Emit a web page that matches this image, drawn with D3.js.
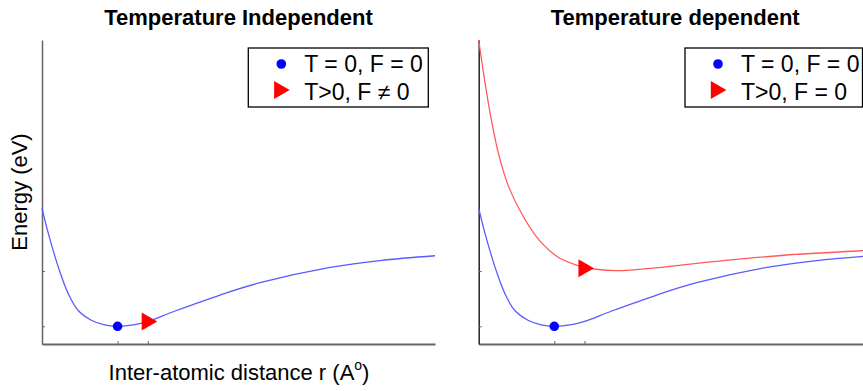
<!DOCTYPE html>
<html>
<head>
<meta charset="utf-8">
<script src="https://cdn.jsdelivr.net/npm/d3@7"></script>
<style>
  body { margin: 0; background: #fff; }
  svg { display: block; font-family: "Liberation Sans", Arial, sans-serif; }
</style>
</head>
<body>
<svg id="chart" width="863" height="391"></svg>
<script>
"use strict";

// Data (r in arbitrary units, energy relative to the minimum)
var titles = ["Temperature Independent", "Temperature dependent"];
var xTicks = [2.5, 3.5];
var yTicks = [0, 1];

// T = 0 curve (same shape in both panels)
var coldR = [0, 0.2, 0.42, 0.59, 0.86, 1.19, 1.63, 2.07, 2.5, 3.07, 3.5, 4.4, 5.89, 7.21, 9.53, 11.18, 13];
var coldE = [2.135, 1.70, 1.28, 0.99, 0.60, 0.29, 0.11, 0.025, 0, 0.03, 0.09, 0.277, 0.566, 0.789, 1.067, 1.19, 1.277];

// T > 0 curve (right panel)
var hotR = [0, 0.185, 0.41, 0.68, 1.01, 1.46, 2.0, 2.66, 3.33, 3.81, 4.57, 5.67, 7.76, 10.19, 12.71, 13];
var hotE = [5.18, 4.49, 3.76, 3.07, 2.50, 2.00, 1.56, 1.24, 1.091, 1.037, 1.006, 1.049, 1.169, 1.29, 1.368, 1.375];

// markers: [r, E] per panel
var dotPoints = [[2.5, 0], [2.5, 0]];
var triPoints = [[3.47, 0.085], [3.47, 1.05]];

var legendLabels = [["T = 0, F = 0", "T>0, F \u2260 0"], ["T = 0, F = 0", "T>0, F = 0"]];

// Layout
var panelLeft = [42, 478.7];
var panelWidth = 393;
var plotTop = 40, plotBottom = 344;
var legendBox = [{x: 248.3, w: 180}, {x: 685, w: 177.5}];

var svg = d3.select("#chart");

var y = d3.scaleLinear().domain([-0.32, 5.18]).range([plotBottom, plotTop]);

var coldData = coldR.map((r, i) => ({r: r, e: coldE[i]}));
var hotData = hotR.map((r, i) => ({r: r, e: hotE[i]}));

for (var p = 0; p < 2; p++) {
  var x = d3.scaleLinear().domain([0, 13]).range([panelLeft[p], panelLeft[p] + panelWidth]);
  var g = svg.append("g");
  var axisColor = p == 0 ? "#666" : "#222";

  // axes with inward ticks
  var xa = g.append("g")
    .attr("transform", `translate(0, ${plotBottom})`)
    .call(d3.axisBottom(x).tickValues(xTicks).tickSizeInner(-3).tickSizeOuter(0).tickFormat(""));
  xa.select(".domain").attr("stroke", "#666").attr("stroke-width", 2);
  xa.selectAll(".tick line").attr("stroke", "#666");

  var ya = g.append("g")
    .attr("transform", `translate(${panelLeft[p]}, 0)`)
    .call(d3.axisLeft(y).tickValues(yTicks).tickSizeInner(-3).tickSizeOuter(0).tickFormat(""));
  ya.select(".domain").attr("stroke", axisColor).attr("stroke-width", 1.5);
  ya.selectAll(".tick line").attr("stroke", "#666");

  var line = d3.line()
    .x(d => x(d.r))
    .y(d => y(d.e))
    .curve(d3.curveCatmullRom.alpha(0.5));

  if (p == 1) {
    g.append("path")
      .datum(hotData)
      .attr("fill", "none")
      .attr("stroke", "#ff5a5a")
      .attr("stroke-width", 1.3)
      .attr("d", line);
  }

  g.append("path")
    .datum(coldData)
    .attr("fill", "none")
    .attr("stroke", "#5a5aff")
    .attr("stroke-width", 1.3)
    .attr("d", line);

  // markers
  g.append("circle")
    .attr("cx", x(dotPoints[p][0]))
    .attr("cy", y(dotPoints[p][1]))
    .attr("r", 4.8)
    .attr("fill", "#0000ff");

  g.append("path")
    .attr("d", d3.symbol(d3.symbolTriangle, 140)())
    .attr("transform", `translate(${x(triPoints[p][0])}, ${y(triPoints[p][1])}) rotate(90)`)
    .attr("fill", "#ff0000");

  // title
  g.append("text")
    .attr("x", panelLeft[p] + panelWidth / 2)
    .attr("y", 25)
    .attr("text-anchor", "middle")
    .attr("font-size", 22)
    .attr("font-weight", "bold")
    .text(titles[p]);

  // legend
  var lg = g.append("g").attr("transform", `translate(${legendBox[p].x}, 48)`);
  lg.append("rect")
    .attr("width", legendBox[p].w)
    .attr("height", 59)
    .attr("fill", "#fff")
    .attr("stroke", "#000")
    .attr("stroke-width", 1.3);
  lg.append("circle")
    .attr("cx", 33)
    .attr("cy", 16)
    .attr("r", 4.8)
    .attr("fill", "#0000ff");
  lg.append("path")
    .attr("d", d3.symbol(d3.symbolTriangle, 140)())
    .attr("transform", "translate(31, 42) rotate(90)")
    .attr("fill", "#ff0000");
  lg.selectAll("text.lab")
    .data(legendLabels[p])
    .enter()
    .append("text")
      .attr("class", "lab")
      .attr("x", 56)
      .attr("y", (d, i) => 24 + i * 27.5)
      .attr("font-size", 23)
      .text(d => d);
}

// axis labels
var xl = svg.append("text")
  .attr("x", 239)
  .attr("y", 380)
  .attr("text-anchor", "middle")
  .attr("font-size", 22);
xl.append("tspan").text("Inter-atomic distance r (A");
xl.append("tspan").attr("font-size", 14).attr("dy", -10).text("o");
xl.append("tspan").attr("dy", 10).text(")");

svg.append("text")
  .attr("transform", "translate(27, 192) rotate(-90)")
  .attr("text-anchor", "middle")
  .attr("font-size", 22)
  .text("Energy (eV)");
</script>
</body>
</html>
